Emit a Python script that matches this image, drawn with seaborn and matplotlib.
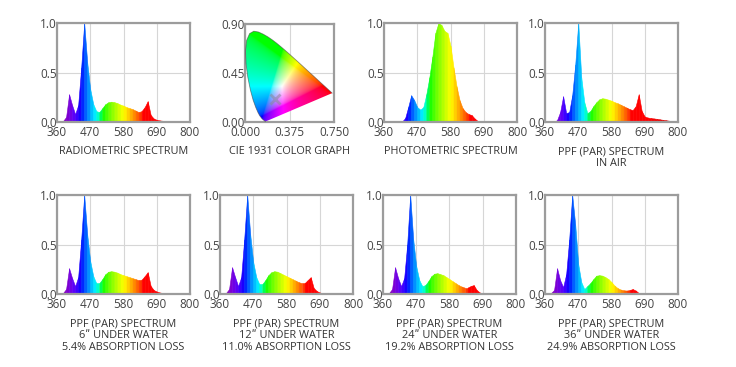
import numpy as np
import matplotlib
matplotlib.use("Agg")
import matplotlib.pyplot as plt
from matplotlib.path import Path
from matplotlib.patches import PathPatch
import seaborn as sns

# wavelength axis (nm), one value every 10 nm
wavelengths = list(range(360, 801, 10))

radiometric = [0, 0, 0.01, 0.05, 0.28, 0.17, 0.08, 0.17, 0.55, 1.0,
               0.6, 0.33, 0.18, 0.11, 0.10, 0.14, 0.18, 0.20, 0.205, 0.20,
               0.19, 0.175, 0.165, 0.15, 0.14, 0.13, 0.115, 0.10, 0.11, 0.15,
               0.21, 0.07, 0.035, 0.022, 0.016, 0.012, 0.01, 0.008, 0.006, 0.005,
               0.004, 0.003, 0.002, 0.001, 0]
photometric = [0, 0, 0, 0, 0, 0, 0.005, 0.04, 0.15, 0.27,
               0.22, 0.15, 0.125, 0.15, 0.28, 0.45, 0.66, 0.9, 1.0, 0.98,
               0.92, 0.9, 0.77, 0.55, 0.36, 0.22, 0.14, 0.10, 0.08, 0.07,
               0.035, 0.01, 0, 0, 0, 0, 0, 0, 0, 0,
               0, 0, 0, 0, 0]
ppf_air = [0, 0, 0, 0, 0.02, 0.10, 0.26, 0.09, 0.10, 0.27,
           0.58, 1.0, 0.45, 0.20, 0.09, 0.11, 0.16, 0.20, 0.23, 0.24,
           0.235, 0.225, 0.215, 0.20, 0.19, 0.175, 0.16, 0.145, 0.13, 0.12,
           0.16, 0.28, 0.11, 0.055, 0.045, 0.04, 0.036, 0.032, 0.027, 0.022,
           0.018, 0.013, 0.009, 0.005, 0.002]
ppf_6in = [0, 0, 0.01, 0.05, 0.26, 0.16, 0.08, 0.17, 0.55, 1.0,
           0.6, 0.33, 0.18, 0.11, 0.11, 0.15, 0.20, 0.225, 0.23, 0.225,
           0.215, 0.20, 0.19, 0.18, 0.17, 0.16, 0.15, 0.14, 0.145, 0.18,
           0.22, 0.08, 0.04, 0.025, 0.015, 0.01, 0.007, 0.005, 0.003, 0.002,
           0.001, 0, 0, 0, 0]
ppf_12in = [0, 0, 0.01, 0.05, 0.27, 0.17, 0.08, 0.17, 0.55, 1.0,
            0.6, 0.32, 0.17, 0.10, 0.10, 0.14, 0.19, 0.22, 0.23, 0.225,
            0.21, 0.195, 0.18, 0.165, 0.15, 0.135, 0.12, 0.11, 0.11, 0.14,
            0.17, 0.06, 0.03, 0.015, 0.007, 0.002, 0, 0, 0, 0,
            0, 0, 0, 0, 0]
ppf_24in = [0, 0, 0.01, 0.05, 0.27, 0.16, 0.08, 0.16, 0.50, 1.0,
            0.55, 0.28, 0.14, 0.08, 0.09, 0.13, 0.18, 0.205, 0.21, 0.20,
            0.19, 0.17, 0.15, 0.13, 0.11, 0.09, 0.075, 0.065, 0.065, 0.08,
            0.09, 0.04, 0.015, 0.006, 0.002, 0, 0, 0, 0, 0,
            0, 0, 0, 0, 0]
ppf_36in = [0, 0, 0.01, 0.04, 0.26, 0.14, 0.07, 0.20, 0.55, 1.0,
            0.7, 0.30, 0.12, 0.05, 0.08, 0.11, 0.15, 0.185, 0.19, 0.185,
            0.17, 0.15, 0.12, 0.085, 0.06, 0.045, 0.038, 0.035, 0.04, 0.05,
            0.035, 0.01, 0, 0, 0, 0, 0, 0, 0, 0,
            0, 0, 0, 0, 0]

# CIE 1931 spectral locus (380..700 nm)
locus_x = [0.1741, 0.1738, 0.1733, 0.1726, 0.1714, 0.1689, 0.1644, 0.1566, 0.1440,
           0.1241, 0.1096, 0.0913, 0.0687, 0.0454, 0.0235, 0.0082, 0.0039, 0.0139,
           0.0389, 0.0743, 0.1142, 0.1547, 0.1929, 0.2296, 0.2658, 0.3016, 0.3373,
           0.3731, 0.4087, 0.4441, 0.4788, 0.5125, 0.5448, 0.5752, 0.6029, 0.6270,
           0.6658, 0.6915, 0.7079, 0.7190, 0.7260, 0.7300, 0.7334, 0.7347]
locus_y = [0.0050, 0.0049, 0.0048, 0.0048, 0.0051, 0.0069, 0.0109, 0.0177, 0.0297,
           0.0578, 0.0868, 0.1327, 0.2007, 0.2950, 0.4127, 0.5384, 0.6548, 0.7502,
           0.8120, 0.8338, 0.8262, 0.8059, 0.7816, 0.7543, 0.7243, 0.6923, 0.6589,
           0.6245, 0.5896, 0.5547, 0.5202, 0.4866, 0.4544, 0.4242, 0.3965, 0.3725,
           0.3340, 0.3083, 0.2920, 0.2809, 0.2740, 0.2700, 0.2666, 0.2653]
light_x = 0.25
light_y = 0.21

wl_ticks = [360, 470, 580, 690, 800]
level_ticks = [0.0, 0.5, 1.0]
cie_x_ticks = [0.0, 0.375, 0.75]
cie_y_ticks = [0.0, 0.45, 0.9]

panels = [
    (radiometric, ["RADIOMETRIC SPECTRUM"]),
    (None, ["CIE 1931 COLOR GRAPH"]),
    (photometric, ["PHOTOMETRIC SPECTRUM"]),
    (ppf_air, ["PPF (PAR) SPECTRUM", "IN AIR"]),
    (ppf_6in, ["PPF (PAR) SPECTRUM", "6\u02ba UNDER WATER", "5.4% ABSORPTION LOSS"]),
    (ppf_12in, ["PPF (PAR) SPECTRUM", "12\u02ba UNDER WATER", "11.0% ABSORPTION LOSS"]),
    (ppf_24in, ["PPF (PAR) SPECTRUM", "24\u02ba UNDER WATER", "19.2% ABSORPTION LOSS"]),
    (ppf_36in, ["PPF (PAR) SPECTRUM", "36\u02ba UNDER WATER", "24.9% ABSORPTION LOSS"]),
]

sns.set_style("white")
plt.rcParams['font.family'] = ['Open Sans', 'DejaVu Sans']

W, H = 736, 367
fig = plt.figure(figsize=(W / 100, H / 100), dpi=100)
fig.patch.set_facecolor('white')

# (left, top, width, height) in pixels
boxes = [(57, 23, 133, 99), (245, 24, 89, 98), (384, 23, 133, 99), (545, 23, 133, 99),
         (57, 195, 133, 99), (220, 195, 133, 99), (383, 195, 133, 99), (545, 195, 133, 99)]


def wl_color(w):
    if w < 380:
        w = 380
    if w < 440:
        r, g, b = 0.7 * (440 - w) / 60, 0.0, 1.0
    elif w < 490:
        r, g, b = 0.0, (w - 440) / 50, 1.0
    elif w < 510:
        r, g, b = 0.0, 1.0, (510 - w) / 20
    elif w < 580:
        r, g, b = (w - 510) / 70, 1.0, 0.0
    elif w < 645:
        r, g, b = 1.0, (645 - w) / 65, 0.0
    else:
        r, g, b = 1.0, 0.0, 0.0
    f = 1.0
    if w < 420:
        f = 0.65 + 0.35 * (w - 380) / 40
    elif w > 700:
        f = 0.75 + 0.25 * (780 - min(w, 780)) / 80
    return tuple((f * c) ** 0.8 for c in (r, g, b))


def style_axes(ax):
    ax.set_axisbelow(True)
    ax.grid(True, color='#d6d6d6', lw=0.8)
    for s in ax.spines.values():
        s.set_visible(True)
        s.set_color('#9c9c9c')
        s.set_linewidth(1.6)
    ax.tick_params(axis='both', length=0, labelsize=8.5, colors='#444444')
    ax.tick_params(axis='x', pad=3)
    ax.tick_params(axis='y', pad=0)


for (values, title), (l, t, w, h) in zip(panels, boxes):
    ax = fig.add_axes([l / W, 1 - (t + h) / H, w / W, h / H])
    style_axes(ax)
    if values is None:
        # chromaticity diagram
        xs = np.linspace(0, 0.75, 400)
        ys = np.linspace(0.001, 0.9, 480)
        gx, gy = np.meshgrid(xs, ys)
        X = gx / gy
        Z = (1 - gx - gy) / gy
        r = 3.2406 * X - 1.5372 - 0.4986 * Z
        g = -0.9689 * X + 1.8758 + 0.0415 * Z
        b = 0.0557 * X - 0.2040 + 1.0570 * Z
        rgb = np.clip(np.dstack([r, g, b]), 0, None)
        rgb = rgb / rgb.max(axis=2, keepdims=True)
        rgb = rgb ** (1 / 2.2)
        verts = list(zip(locus_x, locus_y)) + [(locus_x[0], locus_y[0])]
        patch = PathPatch(Path(verts), facecolor='none', edgecolor='none')
        ax.add_patch(patch)
        im = ax.imshow(rgb, extent=(0, 0.75, 0.001, 0.9), origin='lower',
                       aspect='auto', interpolation='bilinear', zorder=2)
        im.set_clip_path(patch)
        ax.plot(locus_x, locus_y, color='#444444', lw=0.6, alpha=0.6, zorder=3)
        ax.plot([light_x], [light_y], marker='x', ms=7, mew=2,
                color='#8a8a9a', alpha=0.55, zorder=4)
        ax.set_xlim(0, 0.75)
        ax.set_ylim(0, 0.9)
        ax.set_xticks(cie_x_ticks)
        ax.set_yticks(cie_y_ticks)
        ax.set_xticklabels([f"{v:.3f}" for v in cie_x_ticks])
        ax.set_yticklabels([f"{v:.2f}" for v in cie_y_ticks])
    else:
        for i in range(len(wavelengths) - 1):
            w0, w1 = wavelengths[i], wavelengths[i + 1]
            c = wl_color((w0 + w1) / 2)
            ax.fill_between([w0, w1], [values[i], values[i + 1]], 0,
                            facecolor=c, edgecolor=c, lw=0.4, zorder=2)
        ax.set_xlim(360, 800)
        ax.set_ylim(0, 1.0)
        ax.set_xticks(wl_ticks)
        ax.set_yticks(level_ticks)
        ax.set_yticklabels([f"{v:.1f}" for v in level_ticks])
    cx = (l + w / 2) / W
    for k, line in enumerate(title):
        ypx = t + h + 30 + k * 11.7
        fig.text(cx, 1 - ypx / H, line, ha='center', va='center',
                 fontsize=7.8, color='#333333')

fig.savefig("out.png", dpi=100, facecolor='white')
